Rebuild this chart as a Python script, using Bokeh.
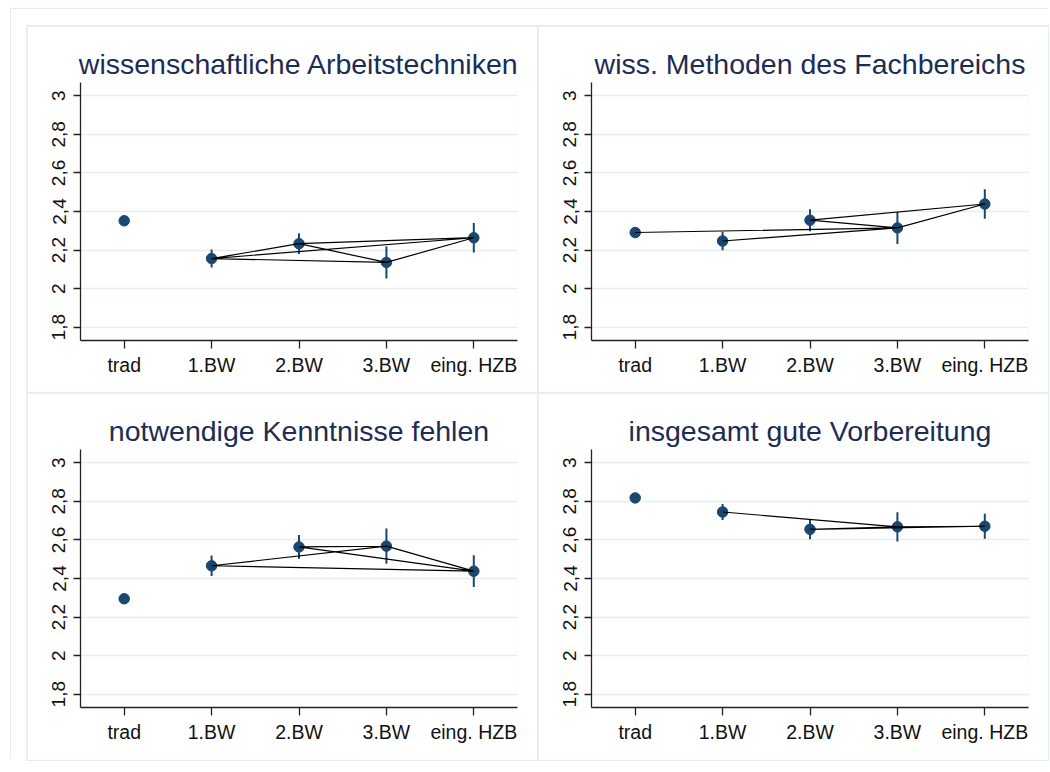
import math
from bokeh.plotting import figure
from bokeh.models import (FactorRange, Range1d, FixedTicker, CustomJSTickFormatter,
                          GridBox, ColumnDataSource)
from bokeh.layouts import column
from bokeh.embed import file_html
from bokeh.resources import INLINE

# ---------------- data ----------------
categories = ["trad", "1.BW", "2.BW", "3.BW", "eing. HZB"]
y_ticks = [1.8, 2.0, 2.2, 2.4, 2.6, 2.8, 3.0]

title_arbeit = "wissenschaftliche Arbeitstechniken"
means_arbeit = [2.352, 2.156, 2.233, 2.136, 2.264]
ci_arbeit = [0.02, 0.047, 0.054, 0.083, 0.077]
order_arbeit = ["1.BW", "2.BW", "3.BW", "eing. HZB", "3.BW", "1.BW", "eing. HZB", "2.BW"]

title_methoden = "wiss. Methoden des Fachbereichs"
means_methoden = [2.291, 2.247, 2.355, 2.315, 2.439]
ci_methoden = [0.02, 0.048, 0.057, 0.083, 0.077]
order_methoden = ["trad", "3.BW", "2.BW", "eing. HZB", "3.BW", "1.BW"]

title_kenntnisse = "notwendige Kenntnisse fehlen"
means_kenntnisse = [2.295, 2.466, 2.564, 2.568, 2.438]
ci_kenntnisse = [0.02, 0.053, 0.062, 0.091, 0.082]
order_kenntnisse = ["3.BW", "2.BW", "eing. HZB", "1.BW", "3.BW", "eing. HZB"]

title_vorbereitung = "insgesamt gute Vorbereitung"
means_vorbereitung = [2.818, 2.745, 2.655, 2.668, 2.671]
ci_vorbereitung = [0.02, 0.042, 0.052, 0.076, 0.065]
order_vorbereitung = ["1.BW", "3.BW", "eing. HZB", "2.BW", "3.BW"]

# ---------------- style ----------------
NAVY = "#1a476f"
TITLE_COLOR = "#1b2d55"
BORDER = "#e3ecef"
GRID = "#e4edf0"
FONT = "Liberation Sans"

fmt = CustomJSTickFormatter(code="""
const v = Math.round(tick*10)/10;
return v.toString().replace('.', ',');
""")


def make_panel(title, means, ci, order, height, top, bottom):
    p = figure(width=510, height=height,
               x_range=FactorRange(factors=categories),
               y_range=Range1d(1.731, 3.069),
               output_backend="svg", toolbar_location=None,
               min_border_left=53, min_border_right=20,
               min_border_top=top, min_border_bottom=bottom,
               background_fill_color="white", border_fill_color="white",
               outline_line_color=None)
    src = ColumnDataSource(dict(
        cat=categories, mean=means,
        lo=[m - c for m, c in zip(means, ci)],
        hi=[m + c for m, c in zip(means, ci)]))
    p.segment(x0="cat", y0="lo", x1="cat", y1="hi", source=src,
              line_color=NAVY, line_width=2)
    p.scatter(x="cat", y="mean", source=src, size=10.5,
              fill_color=NAVY, line_color=NAVY)
    lookup = dict(zip(categories, means))
    p.line(x=order, y=[lookup[c] for c in order], line_color="black", line_width=1.2)

    p.xgrid.visible = False
    p.ygrid.grid_line_color = GRID
    p.ygrid.grid_line_width = 1.6

    xa = p.xaxis[0]
    xa.axis_line_color = "#222222"
    xa.axis_line_width = 1.3
    xa.major_tick_line_color = "#222222"
    xa.major_tick_line_width = 1.3
    xa.major_tick_in = 0
    xa.major_tick_out = 8
    xa.minor_tick_line_color = None
    xa.major_label_text_font = FONT
    xa.major_label_text_font_size = "19.5px"
    xa.major_label_text_color = "#111111"
    xa.major_label_standoff = 5

    ya = p.yaxis[0]
    ya.ticker = FixedTicker(ticks=y_ticks)
    ya.formatter = fmt
    ya.axis_line_color = "#222222"
    ya.axis_line_width = 1.3
    ya.major_tick_line_color = "#222222"
    ya.major_tick_line_width = 1.3
    ya.major_tick_in = 0
    ya.major_tick_out = 7
    ya.minor_tick_line_color = None
    ya.major_label_orientation = "vertical"
    ya.major_label_text_font = FONT
    ya.major_label_text_font_size = "19px"
    ya.major_label_text_color = "#111111"
    ya.major_label_standoff = 8

    p.title.text = title
    p.title.align = "center"
    p.title.text_font = FONT
    p.title.text_font_size = "28.5px"
    p.title.text_font_style = "normal"
    p.title.text_color = TITLE_COLOR
    p.title.standoff = 5
    return p


p1 = make_panel(title_arbeit, means_arbeit, ci_arbeit, order_arbeit, 366, 56, 52)
p2 = make_panel(title_methoden, means_methoden, ci_methoden, order_methoden, 366, 56, 52)
p3 = make_panel(title_kenntnisse, means_kenntnisse, ci_kenntnisse, order_kenntnisse, 367, 56, 53)
p4 = make_panel(title_vorbereitung, means_vorbereitung, ci_vorbereitung, order_vorbereitung, 367, 56, 53)

grid = GridBox(children=[(p1, 0, 0), (p2, 0, 1), (p3, 1, 0), (p4, 1, 1)],
               spacing=1, margin=(17, 0, 0, 16),
               styles={"background-color": BORDER,
                       "box-shadow": "0 0 0 1px " + BORDER})

page = column(grid, margin=(9, 0, 0, 11),
              styles={"box-shadow": "-1px -1px 0 0 " + BORDER})

open("out.html", "w").write(file_html(page, INLINE))
